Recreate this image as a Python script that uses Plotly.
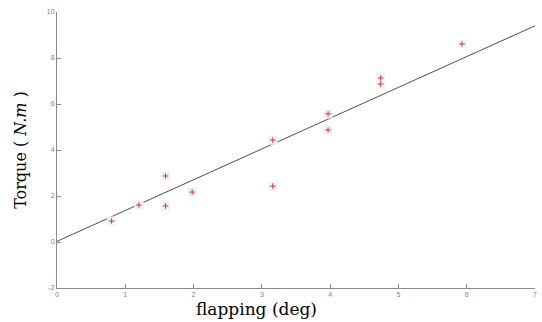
import plotly.graph_objects as go

# Measured data
flapping = [0.80, 1.20, 1.59, 1.59, 1.98, 3.16, 3.16, 3.97, 3.97, 4.74, 4.74, 5.93]
torque = [0.91, 1.61, 2.87, 1.57, 2.17, 4.43, 2.43, 5.57, 4.87, 7.13, 6.87, 8.61]

# Fitted line
fit_x = [0, 7]
fit_y = [0.03, 9.40]

x_ticks = [0, 1, 2, 3, 4, 5, 6, 7]
y_ticks = [-2, 0, 2, 4, 6, 8, 10]

fig = go.Figure()
fig.add_trace(go.Scatter(x=fit_x, y=fit_y, mode="lines",
                         line=dict(color="#505050", width=1), showlegend=False,
                         hoverinfo="skip"))
fig.add_trace(go.Scatter(x=flapping, y=torque, mode="markers",
                         marker=dict(symbol="square", size=9, color="#f2f2f4",
                                     line=dict(width=0)), showlegend=False,
                         hoverinfo="skip"))
fig.add_trace(go.Scatter(x=flapping, y=torque, mode="markers",
                         marker=dict(symbol="cross-thin", size=4,
                                     line=dict(color="#c83a3a", width=1)),
                         showlegend=False))

axis_common = dict(showgrid=False, zeroline=False, showline=True,
                   linecolor="#8a8a8a", linewidth=1, ticks="inside",
                   ticklen=4, tickcolor="#8a8a8a",
                   tickfont=dict(family="Liberation Sans", size=7, color="#808080"))

fig.update_layout(
    width=542, height=322,
    margin=dict(l=57, r=5, t=12, b=34),
    paper_bgcolor="white", plot_bgcolor="white",
    xaxis=dict(range=[0, 7], tickvals=x_ticks, ticktext=[str(v) for v in x_ticks],
               **axis_common),
    yaxis=dict(range=[-2, 10], tickvals=y_ticks, ticktext=[str(v) for v in y_ticks],
               title=dict(text="Torque ( <i>N.m</i> )", standoff=16,
                          font=dict(family="DejaVu Serif", size=16, color="black")),
               **axis_common),
    annotations=[dict(text="flapping (deg)", xref="paper", yref="paper",
                      x=200 / 480, y=-21 / 276, xanchor="center", yanchor="middle",
                      showarrow=False,
                      font=dict(family="DejaVu Serif", size=17, color="black"))],
)

fig.write_html("out.html")
